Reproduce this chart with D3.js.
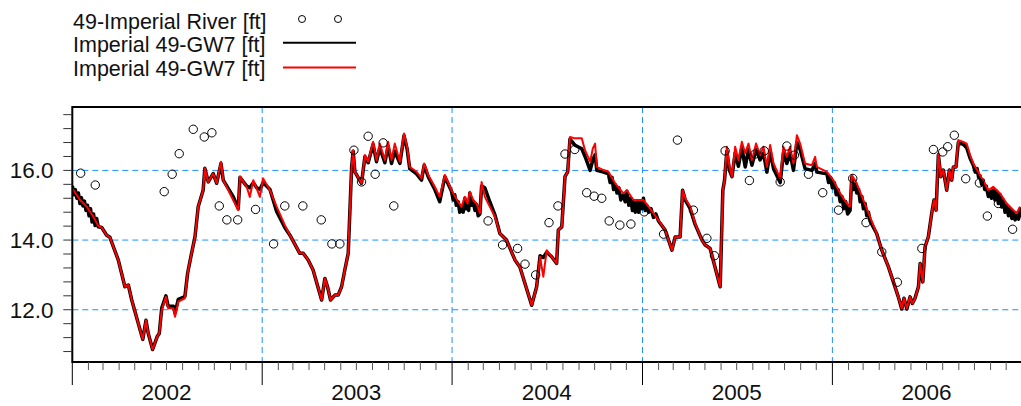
<!DOCTYPE html>
<html>
<head>
<meta charset="utf-8">
<script src="https://cdn.jsdelivr.net/npm/d3@7"></script>
<style>
  body { margin: 0; background: #fff; }
  svg { display: block; font-family: "Liberation Sans", Arial, sans-serif; }
</style>
</head>
<body>
<div id="chart"></div>
<script>
// Series names as shown in the legend
const seriesNames = ["49-Imperial River [ft]", "Imperial 49-GW7 [ft]", "Imperial 49-GW7 [ft]"];

// Year labels on the x axis
const yearLabels = ["2002", "2003", "2004", "2005", "2006"];

// Y tick labels
const yLabelValues = [12, 14, 16];

// River stage samples [decimal year, ft]
const riverPoints = [
  [2002.044, 15.92], [2002.121, 15.58], [2002.484, 15.39], [2002.526, 15.89], [2002.563, 16.48],
  [2002.637, 17.18], [2002.695, 16.96], [2002.735, 17.08], [2002.774, 14.98], [2002.814, 14.58],
  [2002.871, 14.58], [2002.965, 14.88], [2003.060, 13.89], [2003.119, 14.98], [2003.214, 14.98],
  [2003.311, 14.58], [2003.367, 13.89], [2003.409, 13.89], [2003.483, 16.58], [2003.523, 15.67],
  [2003.558, 16.98], [2003.595, 15.89], [2003.637, 16.79], [2003.693, 14.98], [2004.189, 14.55],
  [2004.265, 13.86], [2004.344, 13.76], [2004.383, 13.31], [2004.439, 13.00], [2004.509, 14.50],
  [2004.556, 14.98], [2004.593, 16.47], [2004.644, 16.60], [2004.707, 15.36], [2004.746, 15.26],
  [2004.786, 15.20], [2004.825, 14.55], [2004.881, 14.43], [2004.939, 14.46], [2005.009, 14.81],
  [2005.111, 14.17], [2005.184, 16.87], [2005.268, 14.86], [2005.339, 14.05], [2005.379, 13.55],
  [2005.435, 16.56], [2005.563, 15.71], [2005.593, 16.47], [2005.641, 16.56], [2005.725, 15.67],
  [2005.760, 16.70], [2005.800, 16.44], [2005.874, 15.89], [2005.949, 15.36], [2006.032, 14.86],
  [2006.107, 15.77], [2006.177, 14.50], [2006.260, 13.66], [2006.342, 12.79], [2006.471, 13.76],
  [2006.532, 16.60], [2006.581, 16.53], [2006.607, 16.68], [2006.642, 17.01], [2006.702, 15.76],
  [2006.774, 15.64], [2006.816, 14.69], [2006.874, 15.05], [2006.949, 14.31]
];

// Groundwater level, raw record (black) [decimal year, ft]
// where the raw record oscillates, its upper and lower swings are listed
const gwBlack = [
  [2002.000, 15.56], [2002.008, 15.30], [2002.016, 15.45], [2002.024, 15.20], [2002.032, 15.35],
  [2002.040, 15.05], [2002.048, 15.22], [2002.056, 14.98], [2002.064, 15.12], [2002.072, 14.85],
  [2002.080, 15.00], [2002.088, 14.70], [2002.096, 14.90], [2002.104, 14.52], [2002.112, 14.75],
  [2002.120, 14.42], [2002.128, 14.62], [2002.137, 14.38],
  [2002.155, 14.36], [2002.181, 14.14], [2002.198, 14.08], [2002.242, 13.43], [2002.277, 12.66],
  [2002.295, 12.71], [2002.313, 12.28], [2002.371, 11.15], [2002.388, 11.70], [2002.400, 11.32],
  [2002.423, 10.86], [2002.447, 11.23], [2002.458, 11.32], [2002.471, 12.05], [2002.493, 12.40],
  [2002.505, 12.10], [2002.532, 12.10], [2002.541, 11.90], [2002.558, 12.30], [2002.593, 12.38],
  [2002.607, 13.04], [2002.628, 13.62], [2002.646, 14.09], [2002.663, 14.96], [2002.689, 15.43],
  [2002.698, 16.06], [2002.716, 15.67], [2002.742, 15.91], [2002.760, 15.63], [2002.783, 16.20],
  [2002.795, 15.72], [2002.847, 15.25], [2002.874, 14.90], [2002.883, 15.80], [2002.918, 15.55],
  [2002.935, 15.50], [2002.953, 15.65], [2002.971, 15.50], [2002.988, 15.45], [2003.005, 15.65],
  [2003.041, 15.45], [2003.076, 14.82], [2003.119, 14.36], [2003.146, 14.14], [2003.198, 13.62],
  [2003.216, 13.62], [2003.242, 13.43], [2003.268, 13.14], [2003.313, 12.28], [2003.330, 12.90],
  [2003.344, 12.66], [2003.360, 12.28], [2003.383, 12.42], [2003.400, 12.42], [2003.418, 12.66],
  [2003.435, 13.14], [2003.453, 13.62], [2003.471, 16.10], [2003.479, 16.55], [2003.488, 15.96],
  [2003.523, 15.63], [2003.541, 16.40], [2003.558, 16.22], [2003.584, 16.75], [2003.602, 16.25],
  [2003.619, 16.65], [2003.646, 16.22], [2003.663, 16.70], [2003.681, 16.20], [2003.698, 16.55],
  [2003.725, 16.20], [2003.747, 17.00], [2003.763, 16.62], [2003.777, 16.05], [2003.813, 15.90],
  [2003.839, 15.72], [2003.853, 16.15], [2003.874, 15.82], [2003.909, 15.45], [2003.935, 15.10],
  [2003.962, 15.82],
  [2003.997, 15.40], [2004.006, 15.15], [2004.014, 15.30], [2004.022, 15.00], [2004.032, 15.10],
  [2004.040, 14.80], [2004.049, 14.95], [2004.058, 14.80], [2004.067, 15.20], [2004.074, 14.90],
  [2004.081, 15.02], [2004.087, 14.85], [2004.093, 15.35], [2004.102, 15.00], [2004.111, 15.12],
  [2004.120, 14.85], [2004.128, 15.02], [2004.137, 14.70], [2004.146, 14.75],
  [2004.155, 15.55], [2004.172, 15.50], [2004.198, 15.10], [2004.225, 14.72], [2004.251, 14.19],
  [2004.286, 14.00], [2004.330, 13.43], [2004.356, 13.23], [2004.418, 12.13], [2004.444, 12.66],
  [2004.462, 13.55], [2004.479, 13.50], [2004.497, 13.65], [2004.523, 13.52], [2004.549, 13.33],
  [2004.558, 14.29], [2004.576, 14.38], [2004.593, 15.82], [2004.607, 15.96], [2004.619, 16.90],
  [2004.646, 16.72], [2004.681, 16.62], [2004.698, 16.40], [2004.725, 16.00], [2004.739, 16.30],
  [2004.751, 16.45], [2004.760, 16.00], [2004.795, 15.95],
  [2004.821, 15.90], [2004.830, 15.65], [2004.840, 15.80], [2004.848, 15.45], [2004.856, 15.60],
  [2004.866, 15.35], [2004.876, 15.50], [2004.886, 15.15], [2004.900, 15.30], [2004.909, 15.10],
  [2004.918, 15.40], [2004.928, 15.00], [2004.938, 15.20], [2004.947, 14.85], [2004.953, 15.10],
  [2004.962, 14.80], [2004.972, 15.10], [2004.980, 14.80], [2004.988, 15.10], [2004.996, 14.90],
  [2005.005, 15.20], [2005.014, 14.85], [2005.022, 15.00], [2005.032, 14.80], [2005.045, 14.90],
  [2005.058, 14.65], [2005.070, 14.75], [2005.084, 14.55],
  [2005.119, 14.29], [2005.155, 13.71], [2005.172, 14.09],
  [2005.198, 14.09], [2005.211, 15.43], [2005.225, 15.15], [2005.251, 14.90], [2005.277, 14.45],
  [2005.313, 14.00], [2005.330, 13.86], [2005.356, 13.76], [2005.409, 12.66], [2005.423, 15.43],
  [2005.432, 15.72], [2005.444, 16.55], [2005.458, 16.00], [2005.471, 15.82], [2005.488, 16.50],
  [2005.505, 16.12], [2005.523, 16.65], [2005.541, 16.10], [2005.558, 16.60], [2005.576, 16.15],
  [2005.598, 16.60], [2005.619, 16.30], [2005.637, 16.50], [2005.655, 15.95], [2005.672, 16.55],
  [2005.690, 16.05], [2005.725, 15.65], [2005.742, 16.50], [2005.760, 16.20], [2005.777, 16.50],
  [2005.795, 16.00], [2005.813, 16.80], [2005.830, 16.60], [2005.856, 16.05], [2005.892, 16.00],
  [2005.909, 16.20], [2005.918, 15.95],
  [2005.971, 15.90], [2005.980, 15.65], [2005.990, 15.80], [2006.000, 15.50], [2006.010, 15.65],
  [2006.020, 15.30], [2006.030, 15.45], [2006.041, 15.10], [2006.050, 15.25], [2006.060, 14.90],
  [2006.070, 15.10], [2006.080, 14.75], [2006.093, 14.85], [2006.102, 15.80], [2006.110, 15.45],
  [2006.120, 15.60], [2006.128, 15.35], [2006.138, 15.45], [2006.146, 15.10], [2006.155, 15.25],
  [2006.163, 14.90], [2006.172, 15.05], [2006.181, 14.70], [2006.190, 14.80], [2006.198, 14.55],
  [2006.233, 14.19], [2006.260, 13.71], [2006.295, 13.23], [2006.321, 12.80],
  [2006.347, 12.37], [2006.365, 12.02], [2006.377, 12.33], [2006.392, 12.02], [2006.409, 12.37],
  [2006.421, 12.18], [2006.435, 12.33], [2006.453, 12.66], [2006.462, 13.33], [2006.476, 12.80],
  [2006.488, 13.81], [2006.505, 14.09], [2006.523, 14.77], [2006.535, 15.15], [2006.546, 14.86],
  [2006.558, 16.45], [2006.571, 15.82], [2006.584, 16.01], [2006.602, 15.43], [2006.616, 16.01],
  [2006.628, 15.72], [2006.637, 16.10], [2006.651, 16.10], [2006.663, 16.80], [2006.689, 16.75],
  [2006.707, 16.65], [2006.725, 16.35],
  [2006.742, 16.15], [2006.752, 15.95], [2006.762, 16.05], [2006.770, 15.80], [2006.777, 15.85],
  [2006.786, 15.60], [2006.794, 15.72], [2006.802, 15.45], [2006.810, 15.55], [2006.821, 15.25],
  [2006.830, 15.40], [2006.838, 15.20], [2006.847, 15.48], [2006.856, 15.15], [2006.865, 15.40],
  [2006.874, 15.05], [2006.883, 15.30], [2006.892, 14.95], [2006.900, 15.15], [2006.909, 14.80],
  [2006.918, 15.00], [2006.927, 14.70], [2006.936, 14.90], [2006.945, 14.62], [2006.953, 14.82],
  [2006.962, 14.58], [2006.971, 14.72], [2006.980, 14.60], [2006.988, 14.90], [2006.996, 14.65]
];

// Groundwater level, corrected record (red) [decimal year, ft]
const gwRed = [
  [2002.000, 15.48], [2002.041, 15.15], [2002.076, 14.96], [2002.111, 14.67], [2002.137, 14.40],
  [2002.155, 14.36], [2002.181, 14.14], [2002.198, 14.08], [2002.242, 13.43], [2002.277, 12.66],
  [2002.295, 12.71], [2002.313, 12.28], [2002.371, 11.15], [2002.388, 11.70], [2002.400, 11.32],
  [2002.423, 10.86], [2002.447, 11.23], [2002.458, 11.32], [2002.471, 11.99], [2002.493, 12.37],
  [2002.505, 12.04], [2002.532, 12.04], [2002.541, 11.80], [2002.558, 12.23], [2002.593, 12.33],
  [2002.607, 13.04], [2002.628, 13.62], [2002.646, 14.09], [2002.663, 14.96], [2002.689, 15.43],
  [2002.698, 16.06], [2002.716, 15.67], [2002.742, 15.91], [2002.760, 15.63], [2002.783, 16.25],
  [2002.795, 15.72], [2002.847, 15.15], [2002.874, 14.86], [2002.883, 15.82], [2002.918, 15.53],
  [2002.935, 15.24], [2002.953, 15.72], [2002.971, 15.48], [2002.988, 15.24], [2003.005, 15.77],
  [2003.041, 15.43], [2003.076, 14.96], [2003.119, 14.43], [2003.146, 14.14], [2003.198, 13.62],
  [2003.216, 13.62], [2003.242, 13.43], [2003.268, 13.14], [2003.313, 12.28], [2003.330, 12.90],
  [2003.344, 12.66], [2003.360, 12.28], [2003.383, 12.42], [2003.400, 12.42], [2003.418, 12.66],
  [2003.435, 13.14], [2003.453, 13.62], [2003.471, 16.10], [2003.479, 16.58], [2003.488, 15.96],
  [2003.523, 15.63], [2003.541, 16.44], [2003.558, 16.25], [2003.584, 16.82], [2003.602, 16.30],
  [2003.619, 16.77], [2003.646, 16.30], [2003.663, 16.82], [2003.681, 16.30], [2003.698, 16.77],
  [2003.725, 16.25], [2003.747, 17.06], [2003.763, 16.68], [2003.777, 16.10], [2003.813, 15.96],
  [2003.839, 15.77], [2003.853, 16.20], [2003.874, 15.87], [2003.909, 15.53], [2003.935, 15.24],
  [2003.962, 15.87], [2003.997, 15.43], [2004.032, 15.10], [2004.049, 14.96], [2004.067, 15.24],
  [2004.081, 15.05], [2004.093, 15.39], [2004.111, 15.15], [2004.128, 15.05], [2004.146, 14.77],
  [2004.155, 15.67], [2004.172, 15.24], [2004.198, 14.96], [2004.225, 14.67], [2004.251, 14.19],
  [2004.286, 14.00], [2004.330, 13.43], [2004.356, 13.23], [2004.418, 12.13], [2004.444, 12.66],
  [2004.462, 13.52], [2004.479, 12.95], [2004.497, 13.71], [2004.523, 13.52], [2004.549, 13.33],
  [2004.558, 14.29], [2004.576, 14.38], [2004.593, 15.82], [2004.607, 15.96], [2004.619, 16.96],
  [2004.646, 16.92], [2004.681, 16.92], [2004.698, 16.58], [2004.725, 16.25], [2004.739, 16.63],
  [2004.751, 16.77], [2004.760, 16.10], [2004.795, 16.01], [2004.821, 15.96], [2004.856, 15.63],
  [2004.900, 15.34], [2004.918, 15.43], [2004.953, 15.15], [2004.988, 15.15], [2005.005, 15.15],
  [2005.032, 14.96], [2005.084, 14.57], [2005.119, 14.29], [2005.155, 13.71], [2005.172, 14.09],
  [2005.198, 14.09], [2005.211, 15.43], [2005.225, 15.20], [2005.251, 14.96], [2005.277, 14.48],
  [2005.313, 14.00], [2005.330, 13.86], [2005.356, 13.76], [2005.409, 12.66], [2005.423, 15.43],
  [2005.432, 15.72], [2005.444, 16.68], [2005.458, 16.10], [2005.471, 15.82], [2005.488, 16.68],
  [2005.505, 16.30], [2005.523, 16.82], [2005.541, 16.49], [2005.558, 16.77], [2005.576, 16.30],
  [2005.598, 16.77], [2005.619, 16.44], [2005.637, 16.68], [2005.655, 16.10], [2005.672, 16.73],
  [2005.690, 16.20], [2005.725, 15.77], [2005.742, 16.68], [2005.760, 16.39], [2005.777, 16.68],
  [2005.795, 16.20], [2005.813, 17.01], [2005.830, 16.77], [2005.856, 16.20], [2005.892, 16.15],
  [2005.909, 16.39], [2005.918, 16.10], [2005.971, 15.96], [2006.005, 15.72], [2006.041, 15.34],
  [2006.076, 15.05], [2006.093, 14.96], [2006.102, 15.87], [2006.128, 15.63], [2006.163, 15.15],
  [2006.198, 14.67], [2006.233, 14.19], [2006.260, 13.71], [2006.295, 13.23], [2006.321, 12.80],
  [2006.347, 12.37], [2006.365, 12.04], [2006.377, 12.33], [2006.392, 12.04], [2006.409, 12.37],
  [2006.421, 12.18], [2006.435, 12.33], [2006.453, 12.66], [2006.462, 13.33], [2006.476, 12.80],
  [2006.488, 13.81], [2006.505, 14.09], [2006.523, 14.77], [2006.535, 15.15], [2006.546, 14.86],
  [2006.558, 16.49], [2006.571, 15.82], [2006.584, 16.01], [2006.602, 15.43], [2006.616, 16.01],
  [2006.628, 15.72], [2006.637, 16.10], [2006.651, 16.10], [2006.663, 16.87], [2006.689, 16.82],
  [2006.707, 16.77], [2006.725, 16.44], [2006.742, 16.20], [2006.777, 15.87], [2006.802, 15.63],
  [2006.821, 15.43], [2006.847, 15.53], [2006.883, 15.34], [2006.918, 15.05], [2006.953, 14.86],
  [2006.971, 14.77], [2006.988, 14.96]
];

// decimal year -> Date (UTC)
function toDate(t) {
    const yr = Math.floor(t);
    const s = Date.UTC(yr, 0, 1), e = Date.UTC(yr + 1, 0, 1);
    return new Date(s + (t - yr) * (e - s));
}

const width = 1021;
const height = 406;
const plotLeft = 72.3, plotRight = 1022.3, plotTop = 107, plotBottom = 362;

const svg = d3.select("#chart")
    .append("svg")
    .attr("width", width)
    .attr("height", height);

const x = d3.scaleUtc()
    .domain([new Date(Date.UTC(2002, 0, 1)), new Date(Date.UTC(2007, 0, 1))])
    .range([plotLeft, plotRight]);

const y = d3.scaleLinear()
    .domain([10.5, 17.82])
    .range([plotBottom, plotTop]);

const gridColor = "#1e90ff";

svg.append("clipPath").attr("id", "plot-clip")
    .append("rect")
    .attr("x", plotLeft).attr("y", plotTop)
    .attr("width", width - plotLeft).attr("height", plotBottom - plotTop);

// Grid lines (dashed blue)
svg.append("g").selectAll("line")
    .data(yLabelValues)
    .join("line")
    .attr("x1", plotLeft).attr("x2", width)
    .attr("y1", d => y(d)).attr("y2", d => y(d))
    .attr("stroke", gridColor)
    .attr("stroke-dasharray", "6,4");

const yearStarts = d3.utcYear.range(new Date(Date.UTC(2003, 0, 1)), new Date(Date.UTC(2007, 0, 1)));
svg.append("g").selectAll("line")
    .data(yearStarts)
    .join("line")
    .attr("x1", d => x(d)).attr("x2", d => x(d))
    .attr("y1", plotTop).attr("y2", plotBottom)
    .attr("stroke", gridColor)
    .attr("stroke-dasharray", "6,4");

// Data lines
const line = d3.line()
    .x(d => x(toDate(d[0])))
    .y(d => y(d[1]));

const plot = svg.append("g").attr("clip-path", "url(#plot-clip)");

plot.append("path")
    .datum(gwBlack)
    .attr("d", line)
    .attr("fill", "none")
    .attr("stroke", "#000")
    .attr("stroke-width", 3.5)
    .attr("stroke-linejoin", "round");

plot.append("path")
    .datum(gwRed)
    .attr("d", line)
    .attr("fill", "none")
    .attr("stroke", "#ff0000")
    .attr("stroke-width", 2)
    .attr("stroke-linejoin", "round");

plot.selectAll("circle")
    .data(riverPoints)
    .join("circle")
    .attr("cx", d => x(toDate(d[0])))
    .attr("cy", d => y(d[1]))
    .attr("r", 4.2)
    .attr("fill", "none")
    .attr("stroke", "#000")
    .attr("stroke-width", 1);

// Frame: left axis, bottom axis, top border
svg.append("line").attr("x1", plotLeft).attr("x2", plotLeft).attr("y1", plotTop - 1).attr("y2", plotBottom + 1)
    .attr("stroke", "#000").attr("stroke-width", 2);
svg.append("line").attr("x1", plotLeft).attr("x2", width).attr("y1", plotBottom).attr("y2", plotBottom)
    .attr("stroke", "#000").attr("stroke-width", 2);
svg.append("line").attr("x1", plotLeft).attr("x2", width).attr("y1", plotTop).attr("y2", plotTop)
    .attr("stroke", "#000").attr("stroke-width", 2);

// Y axis ticks every 0.4 ft
const yTicks = d3.range(27, 45).map(i => +(i * 0.4).toFixed(1));
svg.append("g").selectAll("line")
    .data(yTicks)
    .join("line")
    .attr("x1", plotLeft - 9).attr("x2", plotLeft)
    .attr("y1", d => y(d)).attr("y2", d => y(d))
    .attr("stroke", "#333");

svg.append("g").selectAll("text")
    .data(yLabelValues)
    .join("text")
    .attr("x", 53.5)
    .attr("y", d => y(d) + 8)
    .attr("text-anchor", "end")
    .attr("font-size", "22.5px")
    .attr("fill", "#111")
    .text(d => d.toFixed(1));

// X axis: month ticks and year ticks
const months = d3.utcMonth.range(new Date(Date.UTC(2002, 0, 1)), new Date(Date.UTC(2007, 0, 1)))
    .filter(d => d.getUTCMonth() !== 0);
svg.append("g").selectAll("line")
    .data(months)
    .join("line")
    .attr("x1", d => x(d)).attr("x2", d => x(d))
    .attr("y1", plotBottom).attr("y2", plotBottom + 8)
    .attr("stroke", "#555");

const years = d3.utcYear.range(new Date(Date.UTC(2002, 0, 1)), new Date(Date.UTC(2007, 0, 1)));
svg.append("g").selectAll("line")
    .data(years)
    .join("line")
    .attr("x1", d => x(d)).attr("x2", d => x(d))
    .attr("y1", plotBottom).attr("y2", plotBottom + 23)
    .attr("stroke", "#000");

svg.append("g").selectAll("text")
    .data(yearLabels)
    .join("text")
    .attr("x", d => x(d3.utcMonth.offset(new Date(Date.UTC(+d, 0, 1)), 6)))
    .attr("y", 400)
    .attr("text-anchor", "middle")
    .attr("font-size", "22.5px")
    .attr("fill", "#111")
    .text(d => d);

// Legend
const legend = svg.append("g");
const rowY = [28.5, 52.3, 76];
legend.selectAll("text")
    .data(seriesNames)
    .join("text")
    .attr("x", 73)
    .attr("y", (d, i) => rowY[i])
    .attr("font-size", "21.5px")
    .attr("fill", "#111")
    .text(d => d);

legend.selectAll("circle")
    .data([302, 338])
    .join("circle")
    .attr("cx", d => d).attr("cy", 19)
    .attr("r", 3.5)
    .attr("fill", "none")
    .attr("stroke", "#000");

legend.append("line")
    .attr("x1", 283).attr("x2", 356)
    .attr("y1", 42.8).attr("y2", 42.8)
    .attr("stroke", "#000").attr("stroke-width", 2);

legend.append("line")
    .attr("x1", 283).attr("x2", 356)
    .attr("y1", 67.5).attr("y2", 67.5)
    .attr("stroke", "#ff0000").attr("stroke-width", 2);
</script>
</body>
</html>
